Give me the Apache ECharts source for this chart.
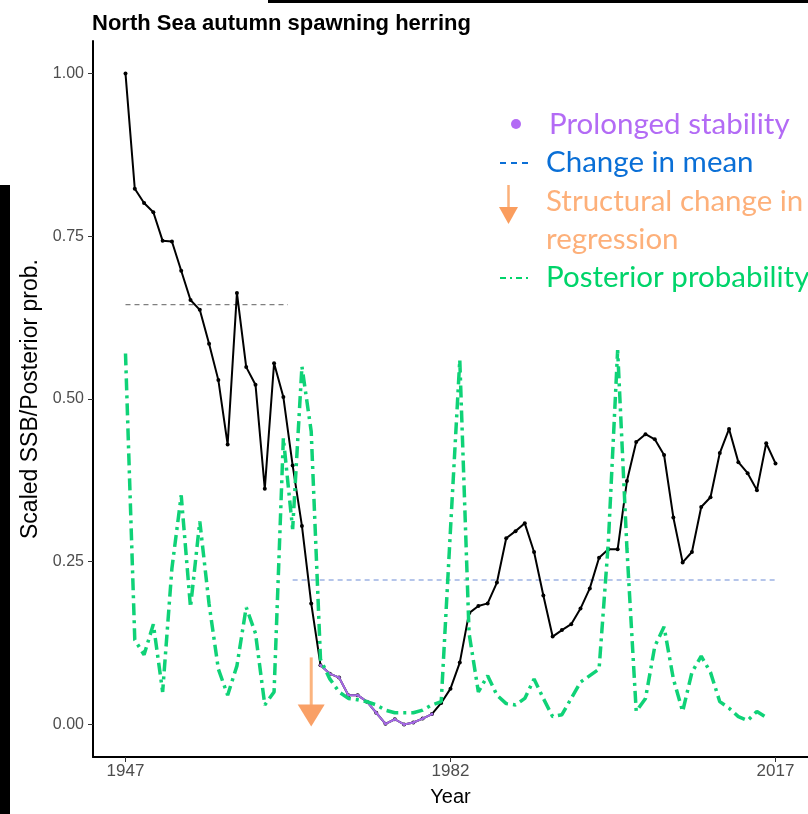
<!DOCTYPE html>
<html><head><meta charset="utf-8">
<script src="https://cdn.jsdelivr.net/npm/echarts@6/dist/echarts.min.js"></script>
<style>html,body{margin:0;padding:0;background:#fff}#c{width:808px;height:814px}</style>
</head><body><div id="c"></div>
<script>
// ---- data ----
const years = [1947,1948,1949,1950,1951,1952,1953,1954,1955,1956,1957,1958,1959,1960,1961,1962,1963,1964,1965,1966,
  1967,1968,1969,1970,1971,1972,1973,1974,1975,1976,1977,1978,1979,1980,1981,1982,1983,1984,1985,1986,
  1987,1988,1989,1990,1991,1992,1993,1994,1995,1996,1997,1998,1999,2000,2001,2002,2003,2004,2005,2006,
  2007,2008,2009,2010,2011,2012,2013,2014,2015,2016,2017];
const scaledSSB = [1.00,0.823,0.801,0.787,0.743,0.742,0.697,0.652,0.637,0.585,0.529,0.43,0.663,0.549,0.522,0.362,0.555,0.503,0.398,0.305,
  0.186,0.091,0.078,0.072,0.045,0.045,0.035,0.018,0.001,0.008,0.0,0.003,0.009,0.016,0.033,0.055,0.095,0.171,0.182,0.186,
  0.218,0.286,0.297,0.309,0.265,0.198,0.135,0.145,0.154,0.178,0.209,0.256,0.269,0.269,0.374,0.434,0.446,0.438,0.414,0.318,
  0.249,0.265,0.334,0.349,0.417,0.454,0.403,0.386,0.360,0.432,0.401];
const posteriorProb = [0.57,0.13,0.107,0.154,0.05,0.24,0.352,0.18,0.312,0.185,0.085,0.045,0.09,0.18,0.14,0.03,0.05,0.44,0.30,0.55,
  0.45,0.10,0.07,0.05,0.04,0.038,0.035,0.03,0.022,0.018,0.018,0.018,0.022,0.03,0.035,0.30,0.56,0.14,0.05,0.075,
  0.045,0.032,0.03,0.04,0.07,0.04,0.012,0.015,0.04,0.065,0.075,0.085,0.28,0.575,0.27,0.02,0.04,0.12,0.15,0.07,
  0.02,0.08,0.105,0.08,0.035,0.025,0.012,0.006,0.02,0.011,null];
const stabilityStart = 1968, stabilityEnd = 1980;
const meanSegStart = [1947, 1965];
const meanSegEnd = [1964.5, 2017];
const meanSegValue = [0.645, 0.222];
const arrowYear = 1967, arrowTop = 0.103, arrowTip = -0.003;
const xTicks = [1947, 1982, 2017];
const yTicks = [0, 0.25, 0.5, 0.75, 1.0];

// ---- build ----
const ssbData = years.map((y,i)=>[y, scaledSSB[i]]);
const stabData = years.map((y,i)=>[y, scaledSSB[i]]).filter(d=>d[0]>=stabilityStart && d[0]<=stabilityEnd);
const probData = years.map((y,i)=>[y, posteriorProb[i]]).filter(d=>d[1]!==null);
const meanColors = ['#7f7f7f', '#6c8bd6'];
const meanSeries = meanSegStart.map((s,i)=>({
  type:'line', silent:true, symbol:'none', z:2,
  data:[[s, meanSegValue[i]],[meanSegEnd[i], meanSegValue[i]]],
  lineStyle:{color:meanColors[i], width:1.1, type:[5,4]}
}));

const chart = echarts.init(document.getElementById('c'), null, {renderer:'canvas'});
const legendFont = 'Lato, "Noto Sans", sans-serif';
const lf = '29.5px ' + legendFont;
chart.setOption({
  animation:false,
  backgroundColor:'#ffffff',
  title:{text:'North Sea autumn spawning herring', left:87, top:8,
    textStyle:{fontFamily:'"Liberation Sans", Arial, sans-serif', fontWeight:'bold', fontSize:22, color:'#000'}},
  grid:{left:93, top:41, width:719, height:716, containLabel:false},
  xAxis:{type:'value', min:1943.5, max:2020.5, name:'Year', nameLocation:'middle', nameGap:30,
    nameTextStyle:{fontFamily:'"Liberation Sans", Arial, sans-serif', fontSize:20, color:'#000'},
    axisLine:{show:true, onZero:false, lineStyle:{color:'#000', width:2}},
    axisTick:{show:true, length:5, customValues:xTicks, lineStyle:{color:'#333', width:1}},
    axisLabel:{customValues:xTicks, margin:6, formatter:v=>String(v), fontFamily:'"Liberation Sans", Arial, sans-serif', fontSize:17, color:'#4d4d4d'},
    splitLine:{show:false}},
  yAxis:{type:'value', min:-0.05, max:1.05, name:'Scaled SSB/Posterior prob.', nameLocation:'middle', nameGap:50, nameRotate:90,
    nameTextStyle:{fontFamily:'"Liberation Sans", Arial, sans-serif', fontSize:23, color:'#000'},
    axisLine:{show:true, onZero:false, lineStyle:{color:'#000', width:2}},
    axisTick:{show:true, length:5, customValues:yTicks, lineStyle:{color:'#333', width:1}},
    axisLabel:{customValues:yTicks, margin:9, formatter:v=>v.toFixed(2), fontFamily:'"Liberation Sans", Arial, sans-serif', fontSize:16, color:'#4d4d4d'},
    splitLine:{show:false}},
  series:[
    ...meanSeries,
    {type:'line', name:'SSB', data:ssbData, z:3, symbol:'circle', symbolSize:4,
      itemStyle:{color:'#000'}, lineStyle:{color:'#000', width:2}},
    {type:'line', name:'Prolonged stability', data:stabData, z:4, symbol:'circle', symbolSize:3,
      itemStyle:{color:'#a66ae6'}, lineStyle:{color:'#a66ae6', width:2}},
    {type:'line', name:'Posterior probability', data:probData, z:5, symbol:'none',
      lineStyle:{color:'#0fd277', width:3.5, type:[12,5,3,5], cap:'butt'}},
    {type:'custom', name:'Structural change', z:6, silent:true,
      data:[[arrowYear, arrowTop, arrowTip]],
      encode:{x:0, y:[1,2]},
      renderItem:function(params, api){
        const top = api.coord([api.value(0), api.value(1)]);
        const tip = api.coord([api.value(0), api.value(2)]);
        const hh = 22, hw = 27;
        return {type:'group', children:[
          {type:'line', shape:{x1:top[0], y1:top[1], x2:tip[0], y2:tip[1]-hh+1}, style:{stroke:'#fbb47e', lineWidth:3}},
          {type:'polygon', shape:{points:[[tip[0]-hw/2, tip[1]-hh],[tip[0]+hw/2, tip[1]-hh],[tip[0], tip[1]]]}, style:{fill:'#f9a066'}}
        ]};
      }}
  ],
  graphic:[
    {type:'rect', shape:{x:0, y:185, width:10, height:629}, style:{fill:'#000'}, silent:true},
    {type:'rect', shape:{x:268, y:0, width:540, height:3}, style:{fill:'#000'}, silent:true},
    {type:'circle', shape:{cx:516, cy:124, r:5}, style:{fill:'#b36bf5'}},
    {type:'text', x:549, y:124, style:{text:'Prolonged stability', fill:'#b36bf5', font:lf, textVerticalAlign:'middle'}},
    {type:'line', shape:{x1:500, y1:163, x2:531, y2:163}, style:{stroke:'#0a6fd6', lineWidth:2, lineDash:[6,5]}},
    {type:'text', x:546, y:162, style:{text:'Change in mean', fill:'#0a6fd6', font:lf, textVerticalAlign:'middle'}},
    {type:'line', shape:{x1:508.5, y1:185, x2:508.5, y2:208}, style:{stroke:'#fbb07a', lineWidth:2.5}},
    {type:'polygon', shape:{points:[[499,207],[518,207],[508.5,224]]}, style:{fill:'#fa9d5e'}},
    {type:'text', x:546, y:201, style:{text:'Structural change in', fill:'#fdb07a', font:lf, textVerticalAlign:'middle'}},
    {type:'text', x:546, y:239, style:{text:'regression', fill:'#fdb07a', font:lf, textVerticalAlign:'middle'}},
    {type:'line', shape:{x1:500, y1:278, x2:531, y2:278}, style:{stroke:'#00d46a', lineWidth:2, lineDash:[6,4,2,4]}},
    {type:'text', x:546, y:277, style:{text:'Posterior probability', fill:'#00d46a', font:lf, textVerticalAlign:'middle'}}
  ]
});
</script></body></html>
